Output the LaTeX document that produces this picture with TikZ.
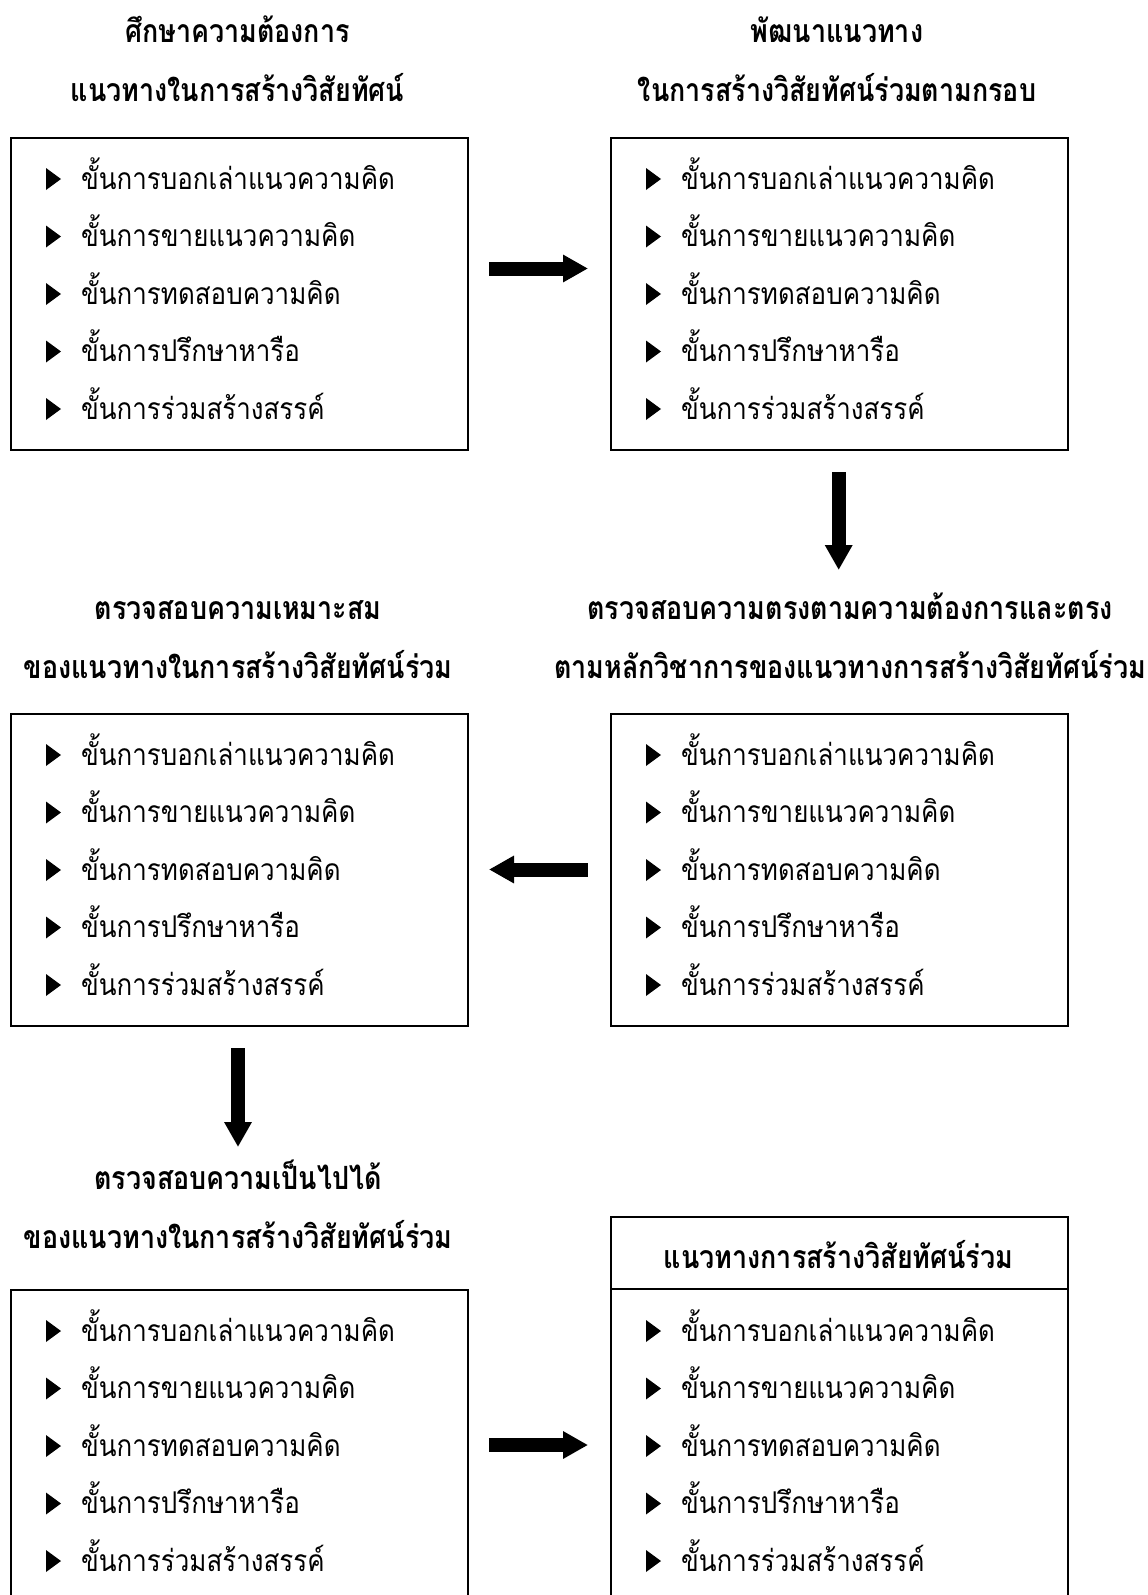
\documentclass[tikz,border=0pt]{standalone}
\usepackage{fontspec}
\usetikzlibrary{arrows.meta}
\newfontfamily\thitemfont[Script=Thai, FakeStretch=0.865]{Loma}
\newfontfamily\thheadfont[Script=Thai, FakeStretch=0.84]{Loma}
\tikzset{
  panel/.style={draw=black, line width=2pt, fill=white, inner sep=0pt, anchor=north west},
  itemtext/.style={anchor=base west, inner sep=0pt, font=\thitemfont\fontsize{30}{36}\selectfont},
  headtext/.style={anchor=base, inner sep=0pt, font=\thheadfont\bfseries\fontsize{32}{38}\selectfont},
  bigarrow/.style={line width=14pt, -{Triangle[length=25pt, width=26pt]}},
}
\begin{document}
\begin{tikzpicture}[x=1pt, y=-1pt]
\useasboundingbox (0,0) rectangle (1148,1595);
\fill[white] (0,0) rectangle (1148,1595);
\clip (0,0) rectangle (1148,1595);

% panels
\node[panel, minimum width=456.5pt, minimum height=311.5pt] (b1l) at (10,137) {};
\node[panel, minimum width=456.5pt, minimum height=311.5pt] (b1r) at (610,137) {};
\node[panel, minimum width=456.5pt, minimum height=312pt] (b2l) at (10,713) {};
\node[panel, minimum width=456.5pt, minimum height=312pt] (b2r) at (610,713) {};
\node[panel, minimum width=456.5pt, minimum height=340pt] (b3l) at (10,1289) {};
\node[panel, minimum width=456.5pt, minimum height=410pt] (b3r) at (610,1216) {};
\draw[line width=2pt] (b3r.west |- 0,1289) coordinate (d1) -- (b3r.east |- 0,1289) coordinate (d2);

% headings
\node[headtext] (h1la) at (237.5,43) {ศึกษาความต้องการ};
\node[headtext] (h1lb) at (237.5,101.5) {แนวทางในการสร้างวิสัยทัศน์};
\node[headtext] (h1ra) at (837,43) {พัฒนาแนวทาง};
\node[headtext] (h1rb) at (837,101.5) {ในการสร้างวิสัยทัศน์ร่วมตามกรอบ};
\node[headtext] (h2la) at (238,619) {ตรวจสอบความเหมาะสม};
\node[headtext] (h2lb) at (238,678) {ของแนวทางในการสร้างวิสัยทัศน์ร่วม};
\node[headtext] (h2ra) at (850,619) {ตรวจสอบความตรงตามความต้องการและตรง};
\node[headtext] (h2rb) at (850,678) {ตามหลักวิชาการของแนวทางการสร้างวิสัยทัศน์ร่วม};
\node[headtext] (h3la) at (238,1189.5) {ตรวจสอบความเป็นไปได้};
\node[headtext] (h3lb) at (238,1248.5) {ของแนวทางในการสร้างวิสัยทัศน์ร่วม};
\node[headtext] (h3r) at (838.5,1268) {แนวทางการสร้างวิสัยทัศน์ร่วม};

% items
\foreach \bx/\by/\nm in {10/137/p1l, 610/137/p1r, 10/713/p2l, 610/713/p2r, 10/1289/p3l, 610/1289/p3r}{
  \foreach \txt [count=\k from 0] in {ขั้นการบอกเล่าแนวความคิด, ขั้นการขายแนวความคิด, ขั้นการทดสอบความคิด, ขั้นการปรึกษาหารือ, ขั้นการร่วมสร้างสรรค์}{
    \pgfmathsetmacro{\bl}{\by+52+57.5*\k}
    \fill (\bx+36,\bl-21) -- (\bx+51,\bl-10) -- (\bx+36,\bl+1) -- cycle;
    \node[itemtext] (\nm-\k) at (\bx+71,\bl) {\txt};
  }
}

% arrows
\coordinate (a1s) at (489,268.5);   \coordinate (a1e) at (588,268.5);
\coordinate (a2s) at (838.7,472);   \coordinate (a2e) at (838.7,570);
\coordinate (a3s) at (587.5,869.5); \coordinate (a3e) at (489,869.5);
\coordinate (a4s) at (238,1048);    \coordinate (a4e) at (238,1147);
\coordinate (a5s) at (489,1445);    \coordinate (a5e) at (588,1445);
\draw[bigarrow] (a1s) -- (a1e);
\draw[bigarrow] (a2s) -- (a2e);
\draw[bigarrow] (a3s) -- (a3e);
\draw[bigarrow] (a4s) -- (a4e);
\draw[bigarrow] (a5s) -- (a5e);
\end{tikzpicture}
\end{document}
